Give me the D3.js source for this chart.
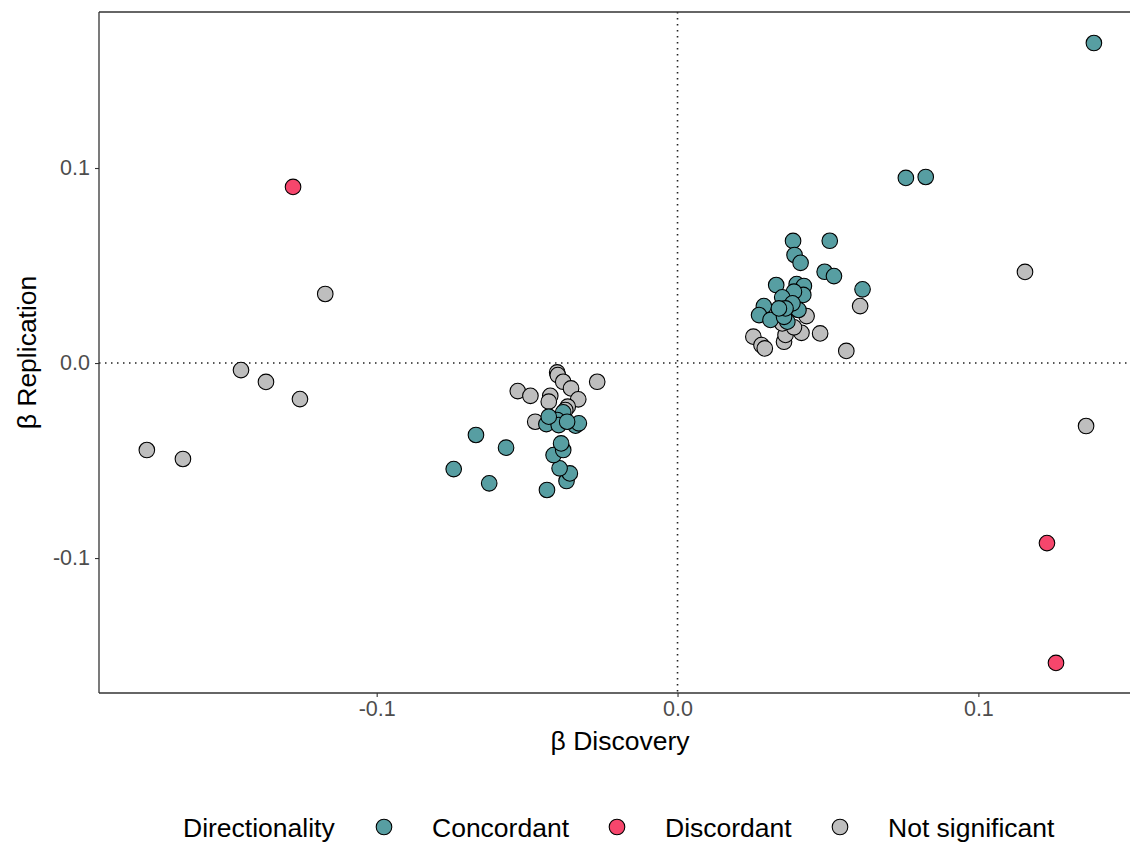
<!DOCTYPE html>
<html>
<head>
<meta charset="utf-8">
<script src="https://cdn.jsdelivr.net/npm/d3@7"></script>
<style>
  body { margin: 0; background: #fff; }
  text { font-family: "Liberation Sans", Arial, sans-serif; }
</style>
</head>
<body>
<div id="chart"></div>
<script>
// values
const concordantX = [-0.0670, -0.0570, -0.0744, -0.0626, -0.0434, -0.0369, -0.0358, -0.0392, -0.0412, -0.0380, -0.0387,
  -0.0436, -0.0339, -0.0328, -0.0380, -0.0400, -0.0395, -0.0428, -0.0367,
  0.0384, 0.0506, 0.0389, 0.0409, 0.0489, 0.0520, 0.0615, 0.0328, 0.0396, 0.0420, 0.0418, 0.0387, 0.0348,
  0.0287, 0.0271, 0.0309, 0.0365, 0.0354, 0.0402, 0.0382, 0.0359, 0.0337,
  0.1384, 0.0759, 0.0825];
const concordantY = [-0.0369, -0.0434, -0.0544, -0.0617, -0.0651, -0.0605, -0.0566, -0.0540, -0.0472, -0.0446, -0.0412,
  -0.0313, -0.0321, -0.0309, -0.0253, -0.0292, -0.0318, -0.0275, -0.0301,
  0.0626, 0.0627, 0.0554, 0.0514, 0.0468, 0.0446, 0.0378, 0.0400, 0.0405, 0.0395, 0.0349, 0.0366, 0.0337,
  0.0292, 0.0246, 0.0221, 0.0212, 0.0237, 0.0272, 0.0306, 0.0280, 0.0280,
  0.1641, 0.0949, 0.0954];

const discordantX = [-0.1278, 0.1228, 0.1258];
const discordantY = [0.0903, -0.0923, -0.1538];

const notSigX = [-0.1764, -0.1644, -0.1451, -0.1368, -0.1255, -0.1171,
  -0.0400, -0.0398, -0.0380, -0.0354, -0.0267, -0.0531, -0.0489, -0.0423, -0.0428, -0.0330, -0.0365, -0.0473, -0.0373,
  0.0607, 0.0474, 0.0561, 0.0252, 0.0279, 0.0290, 0.0354, 0.0359, 0.0412, 0.0387, 0.0429, 0.0348,
  0.1155, 0.1358];
const notSigY = [-0.0446, -0.0492, -0.0036, -0.0097, -0.0185, 0.0354,
  -0.0048, -0.0062, -0.0096, -0.0130, -0.0096, -0.0144, -0.0168, -0.0168, -0.0198, -0.0186, -0.0224, -0.0301, -0.0241,
  0.0292, 0.0152, 0.0062, 0.0135, 0.0092, 0.0075, 0.0109, 0.0144, 0.0155, 0.0183, 0.0241, 0.0203,
  0.0467, -0.0323];

const groups = ["Concordant", "Discordant", "Not significant"];
const groupColors = ["#579ea2", "#f6466c", "#bebebe"];
const xTicks = [-0.1, 0.0, 0.1];
const yTicks = [-0.1, 0.0, 0.1];

const W = 1130, H = 844;
const margin = { top: 12, right: 0, bottom: 151, left: 99 },
      width = W - margin.left - margin.right,
      height = H - margin.top - margin.bottom;

const svg = d3.select("#chart")
  .append("svg")
    .attr("width", W)
    .attr("height", H);

const g = svg.append("g")
    .attr("transform", `translate(${margin.left},${margin.top})`);

const x = d3.scaleLinear()
    .domain([-0.1923, 0.1504])
    .range([0, width]);

const y = d3.scaleLinear()
    .domain([-0.1692, 0.18])
    .range([height, 0]);

// reference lines
g.append("line")
    .attr("x1", x(0)).attr("x2", x(0))
    .attr("y1", 0).attr("y2", height)
    .style("stroke", "#222").style("stroke-width", 1.6)
    .style("stroke-dasharray", "1.5,4.5");
g.append("line")
    .attr("x1", 0).attr("x2", width)
    .attr("y1", y(0)).attr("y2", y(0))
    .style("stroke", "#222").style("stroke-width", 1.6)
    .style("stroke-dasharray", "1.5,4.5");

// points (grey underneath, coloured on top)
const points = [];
notSigX.forEach((v, i) => points.push({ x: v, y: notSigY[i], g: 2 }));
concordantX.forEach((v, i) => points.push({ x: v, y: concordantY[i], g: 0 }));
discordantX.forEach((v, i) => points.push({ x: v, y: discordantY[i], g: 1 }));

g.selectAll(".pt")
  .data(points)
  .enter().append("circle")
    .attr("class", "pt")
    .attr("cx", d => x(d.x))
    .attr("cy", d => y(d.y))
    .attr("r", 7.8)
    .style("fill", d => groupColors[d.g])
    .style("stroke", "#000")
    .style("stroke-width", 1.1);

// axes
const fmt = v => d3.format(".1f")(v).replace("−", "-");
const xAxis = g.append("g")
    .attr("transform", `translate(0,${height})`)
    .call(d3.axisBottom(x).tickValues(xTicks).tickFormat(fmt).tickSize(4).tickPadding(4));
const yAxis = g.append("g")
    .call(d3.axisLeft(y).tickValues(yTicks).tickFormat(fmt).tickSize(4).tickPadding(5));

[xAxis, yAxis].forEach(a => {
  a.select(".domain").remove();
  a.selectAll(".tick line").style("stroke", "#333").style("stroke-width", 1.1);
  a.selectAll(".tick text").style("fill", "#4d4d4d").style("font-size", "21.5px")
    .style("font-family", "Liberation Sans, Arial, sans-serif");
});

// panel lines: left, bottom, top
g.append("line").attr("x1", 0).attr("x2", 0).attr("y1", 0).attr("y2", height)
    .style("stroke", "#333").style("stroke-width", 1.3);
g.append("line").attr("x1", 0).attr("x2", width).attr("y1", height).attr("y2", height)
    .style("stroke", "#333").style("stroke-width", 1.3);
g.append("line").attr("x1", 0).attr("x2", width).attr("y1", 0).attr("y2", 0)
    .style("stroke", "#333").style("stroke-width", 1.3);

// axis titles
svg.append("text")
    .attr("x", 620).attr("y", 750)
    .attr("text-anchor", "middle")
    .style("font-size", "26.5px")
    .text("β Discovery");
svg.append("text")
    .attr("transform", `translate(36,${margin.top + height / 2}) rotate(-90)`)
    .attr("text-anchor", "middle")
    .style("font-size", "26.5px")
    .text("β Replication");

// legend
const legend = svg.append("g").attr("transform", "translate(0,827)");
legend.append("text")
    .attr("x", 183).attr("y", 9.5)
    .style("font-size", "26.5px")
    .text("Directionality");
const legendX = [384, 617, 840];
groups.forEach((name, i) => {
  legend.append("circle")
      .attr("cx", legendX[i]).attr("cy", 0).attr("r", 7.8)
      .style("fill", groupColors[i]).style("stroke", "#000").style("stroke-width", 1.1);
  legend.append("text")
      .attr("x", legendX[i] + 48).attr("y", 9.5)
      .style("font-size", "26.5px")
      .text(name);
});
</script>
</body>
</html>
